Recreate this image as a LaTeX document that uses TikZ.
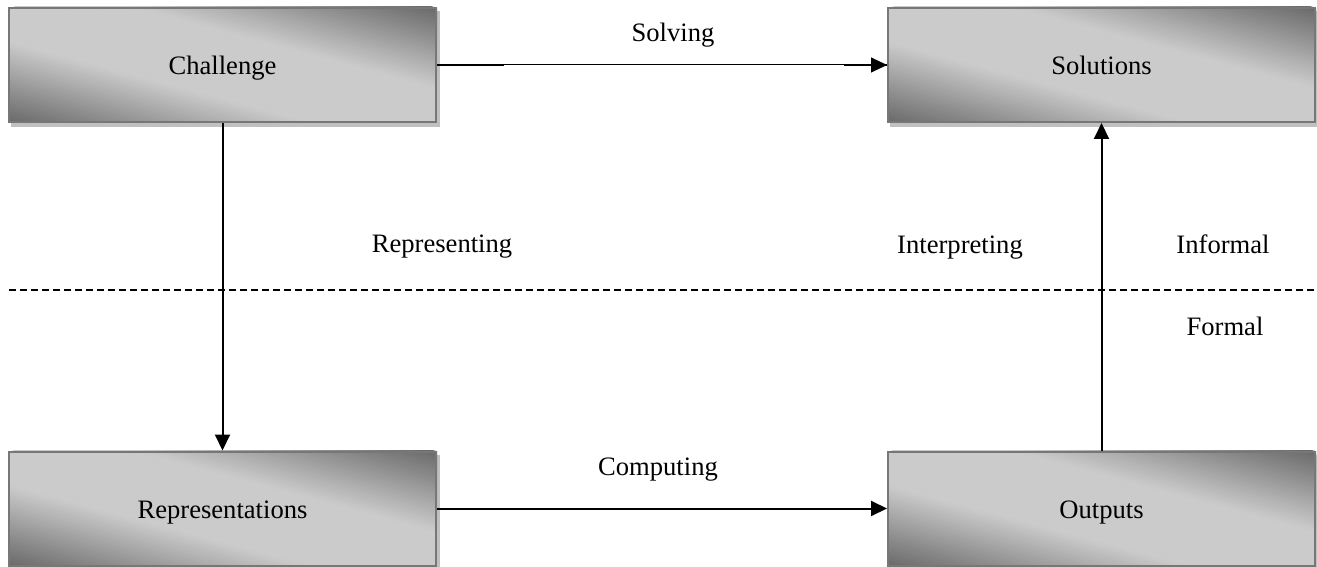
\documentclass[tikz,border=0pt]{standalone}
\usepackage{fontspec}
\setmainfont{Liberation Serif}
\usetikzlibrary{arrows.meta}

\definecolor{boxdark}{HTML}{6A6A6A}
\definecolor{boxlight}{HTML}{CBCBCB}
\definecolor{boxedge}{HTML}{777777}
\definecolor{boxshadow}{HTML}{C0C0C0}

\pgfdeclarelayer{back}
\pgfsetlayers{back,main}

% shadow and diagonal grey gradient behind a stage box:
% bands run parallel to the box diagonal, light in the middle, dark at two corners
\newcommand{\stagefill}[1]{%
  \fill[boxshadow] ([shift={(1.5pt,-2pt)}]#1.south west)
    rectangle ([shift={(1.5pt,-2pt)}]#1.north east);
  \begin{scope}
    \clip (#1.south west) rectangle (#1.north east);
    \begin{scope}[shift={(#1.center)}, cm={106.75,-28.5,106.75,28.5,(0,0)}]
      \foreach \i in {-40,...,39}{
        \pgfmathsetmacro{\tq}{abs((\i+0.5)/40)}
        \pgfmathsetmacro{\pct}{100*(1-max(0,(\tq-0.3)/0.7))}
        \pgfmathsetmacro{\qa}{\i/40}
        \pgfmathsetmacro{\qb}{(\i+1.2)/40}
        \fill[boxlight!\pct!boxdark] (-1pt,\qa pt) -- (1pt,\qa pt)
          -- (1pt,\qb pt) -- (-1pt,\qb pt) -- cycle;
      }
    \end{scope}
  \end{scope}}

\begin{document}
\begin{tikzpicture}[x=0.5pt,y=-0.5pt,
  every node/.style={font=\fontsize{13.3}{16}\selectfont},
  stage/.style={draw=boxedge, line width=1pt,
    minimum width=213.5pt, minimum height=57pt, inner sep=0pt,
    text height=9.5pt, text depth=0pt},
  link/.style={line width=1pt, -{Triangle[length=8pt,width=7.5pt]}},
  thinlink/.style={line width=0.5pt, -{Triangle[length=8pt,width=7.5pt]}},
  stub/.style={line width=1pt},
  tag/.style={anchor=base},
  divider/.style={line width=0.6pt, dash pattern=on 3.5pt off 2pt}]

\useasboundingbox (0,0) rectangle (1317,567);

% stages
\node[stage] (ch) at (222.5,65) {Challenge};
\node[stage] (so) at (1101.5,65) {Solutions};
\node[stage] (re) at (222.5,508.5) {Representations};
\node[stage] (ou) at (1101.5,508.5) {Outputs};

\begin{pgfonlayer}{back}
  \stagefill{ch}
  \stagefill{so}
  \stagefill{re}
  \stagefill{ou}
\end{pgfonlayer}

% informal / formal divide
\coordinate (dl) at (9,290);
\coordinate (dr) at (1316,290);
\draw[divider] (dl) -- (dr);

% connectors
\draw[thinlink] (ch.east) -- (so.west);
\draw[stub] (ch.east) -- ++(67,0);
\draw[stub] (so.west) -- ++(-43,0);
\draw[link] (ch.south) -- (re.north);
\draw[link] (re.east) -- (ou.west);
\draw[link] (ou.north) -- (so.south);

% labels
\node[tag] (lsolve) at (673,42) {Solving};
\node[tag] (lrep) at (442,252) {Representing};
\node[tag] (linterp) at (960,253) {Interpreting};
\node[tag] (linf) at (1223,253) {Informal};
\node[tag] (lform) at (1225,335) {Formal};
\node[tag] (lcomp) at (658,475) {Computing};
\end{tikzpicture}
\end{document}
